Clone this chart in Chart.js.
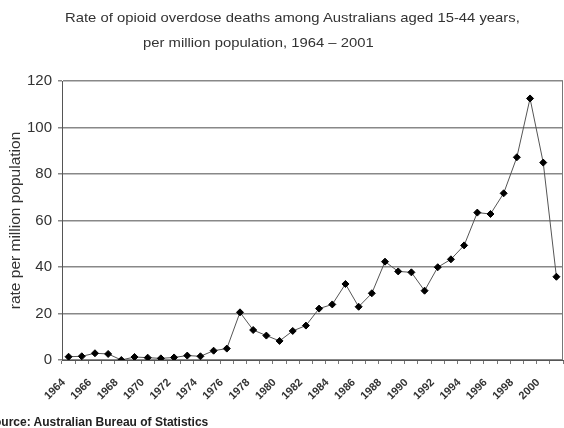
<!DOCTYPE html>
<html>
<head>
  <title>Opioid overdose deaths</title>
  <script src="https://cdn.jsdelivr.net/npm/chart.js"></script>
  <style>
    body {
      margin: 0;
      background: #fff;
      font-family: "Liberation Sans", Arial, sans-serif;
    }
    #wrap {
      position: relative;
      width: 564px;
      height: 428px;
      overflow: hidden;
    }
    #chart {
      position: absolute;
      left: 0;
      top: 0;
    }
    .title {
      position: absolute;
      font-size: 13px;
      color: #333;
      white-space: nowrap;
      transform: scaleX(1.14);
      transform-origin: left top;
    }
    #source {
      position: absolute;
      left: -14px;
      top: 415px;
      font-size: 12px;
      font-weight: bold;
      color: #222;
      white-space: nowrap;
    }
  </style>
</head>
<body>
  <div id="wrap">
    <canvas id="chart" width="564" height="428"></canvas>
    <div class="title" style="left:65px; top:10px;">Rate of opioid overdose deaths among Australians aged 15-44 years,</div>
    <div class="title" style="left:143px; top:35px;">per million population, 1964 – 2001</div>
    <div id="source">Source: Australian Bureau of Statistics</div>
  </div>

  <script>
    const years = [
      '1964','1965','1966','1967','1968','1969','1970','1971','1972','1973',
      '1974','1975','1976','1977','1978','1979','1980','1981','1982','1983',
      '1984','1985','1986','1987','1988','1989','1990','1991','1992','1993',
      '1994','1995','1996','1997','1998','1999','2000','2001'
    ];
    const rates = [
      1.4, 1.6, 2.9, 2.6, 0.0, 1.3, 1.0, 0.7, 1.1, 1.9,
      1.6, 4.0, 4.9, 20.5, 12.9, 10.5, 8.2, 12.5, 14.8, 22.1,
      23.9, 32.7, 22.9, 28.7, 42.3, 38.1, 37.7, 29.8, 39.9, 43.3,
      49.3, 63.4, 62.8, 71.7, 87.2, 112.5, 84.9, 35.8
    ];
    const yTicks = [0, 20, 40, 60, 80, 100, 120];

    // right edge of the plot box
    const frame = {
      id: 'frame',
      afterDraw(chart) {
        const a = chart.chartArea;
        const c = chart.ctx;
        c.save();
        c.strokeStyle = '#777';
        c.lineWidth = 1;
        c.beginPath();
        c.moveTo(a.right - 0.5, a.top);
        c.lineTo(a.right - 0.5, a.bottom);
        c.stroke();
        c.restore();
      }
    };

    const ctx = document.getElementById('chart').getContext('2d');
    const chart = new Chart(ctx, {
      type: 'line',
      data: {
        labels: years,
        datasets: [{
          data: rates,
          borderColor: '#555',
          borderWidth: 1,
          pointStyle: 'rectRot',
          pointRadius: 3.5,
          pointBackgroundColor: '#000',
          pointBorderColor: '#000',
          fill: false,
          tension: 0
        }]
      },
      options: {
        responsive: false,
        animation: false,
        devicePixelRatio: 1,
        layout: { autoPadding: false, padding: { top: 81, right: 1, bottom: 0, left: 0 } },
        plugins: {
          legend: { display: false },
          tooltip: { enabled: false }
        },
        scales: {
          x: {
            type: 'category',
            offset: true,
            grid: { drawOnChartArea: false, drawTicks: true, tickLength: 4, color: '#777', offset: true },
            border: { color: '#555' },
            ticks: {
              autoSkip: false,
              minRotation: 45,
              maxRotation: 45,
              padding: 12,
              labelOffset: -5,
              color: '#333',
              font: { family: 'Liberation Sans', size: 11, weight: 'bold' },
              callback: (v, i) => (i % 2 === 0 ? years[i] : '')
            },
            afterFit: s => { s.height = 68; s.paddingLeft = 0; s.paddingRight = 0; }
          },
          y: {
            min: yTicks[0],
            max: yTicks[yTicks.length - 1],
            afterBuildTicks: s => { s.ticks = yTicks.map(v => ({ value: v })); },
            grid: { color: '#888', lineWidth: 1.5, tickLength: 4 },
            border: { color: '#555' },
            ticks: {
              padding: 6,
              color: '#333',
              font: { family: 'Liberation Sans', size: 15 }
            },
            title: {
              display: true,
              text: 'rate per million population',
              color: '#333',
              font: { family: 'Liberation Sans', size: 15.5 },
              padding: { top: 6, bottom: 0 }
            },
            afterFit: s => { s.width = 62; s.paddingTop = 0; s.paddingBottom = 0; }
          }
        }
      },
      plugins: [frame]
    });
  </script>
</body>
</html>
